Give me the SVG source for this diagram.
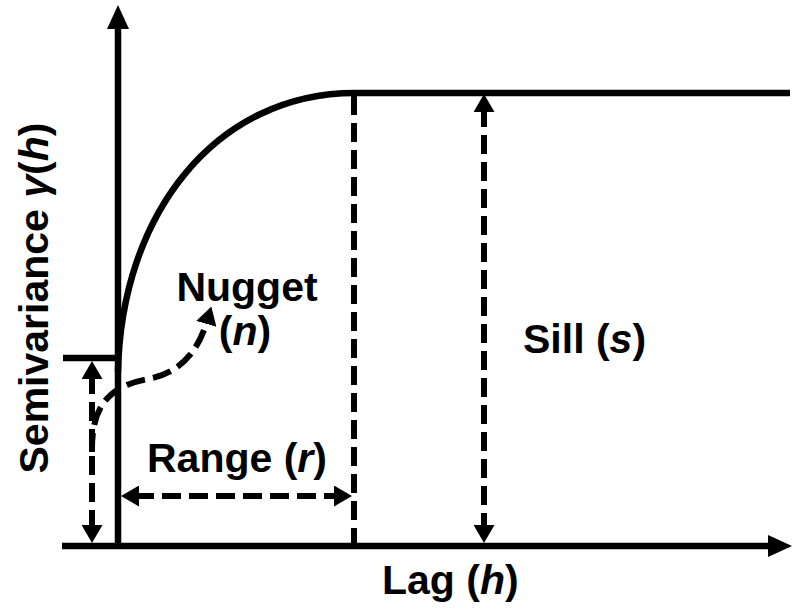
<svg xmlns="http://www.w3.org/2000/svg" width="800" height="613" viewBox="0 0 800 613">
<style>
.t{font-family:"Liberation Sans",Arial,sans-serif;font-weight:bold;font-size:41px;fill:#000}
.solid{stroke:#000;stroke-width:6.5;fill:none}
.dash{stroke:#000;stroke-width:6;fill:none;stroke-dasharray:19 8}
</style>
<defs>
<marker id="ax" viewBox="0 0 24 22" refX="4" refY="11" markerWidth="24" markerHeight="22" markerUnits="userSpaceOnUse" orient="auto">
<path d="M0,0 L24,11 L0,22 z" fill="#000"/>
</marker>
<marker id="dh" viewBox="0 0 18 21" refX="4" refY="10.5" markerWidth="18" markerHeight="21" markerUnits="userSpaceOnUse" orient="auto-start-reverse">
<path d="M0,0 L18,10.5 L0,21 z" fill="#000"/>
</marker>
</defs>
<g id="axes">
<line class="solid" x1="118" y1="549" x2="118" y2="25" marker-end="url(#ax)"/>
<line class="solid" x1="62" y1="546" x2="772" y2="546" marker-end="url(#ax)"/>
</g>
<g id="curve">
<path class="solid" d="M118,372 C121,215 215,93 355,93 L790,93"/>
<line class="solid" x1="63" y1="358" x2="118" y2="358"/>
</g>
<g id="connectors">
<line class="dash" x1="484" y1="108" x2="484" y2="529" marker-start="url(#dh)" marker-end="url(#dh)"/>
<line class="dash" x1="354" y1="96" x2="354" y2="546"/>
<line class="dash" x1="135" y1="496" x2="338" y2="496" marker-start="url(#dh)" marker-end="url(#dh)"/>
<line class="dash" x1="92" y1="375" x2="92" y2="529" marker-start="url(#dh)" marker-end="url(#dh)"/>
<path class="dash" d="M92,452 C91,405 110,386 148,379 C180,373 198,352 207.4,320" marker-end="url(#dh)"/>
</g>
<g id="labels">
<text class="t" x="247" y="301" text-anchor="middle">Nugget</text>
<text class="t" x="245" y="345" text-anchor="middle">(<tspan font-style="italic">n</tspan>)</text>
<text class="t" x="523" y="353">Sill (<tspan font-style="italic">s</tspan>)</text>
<text class="t" x="147" y="472">Range (<tspan font-style="italic">r</tspan>)</text>
<text class="t" x="382" y="594">Lag (<tspan font-style="italic">h</tspan>)</text>
<text class="t" x="48" y="298" text-anchor="middle" transform="rotate(-90 48 298)">Semivariance <tspan font-style="italic">γ</tspan>(<tspan font-style="italic">h</tspan>)</text>
</g>
</svg>
